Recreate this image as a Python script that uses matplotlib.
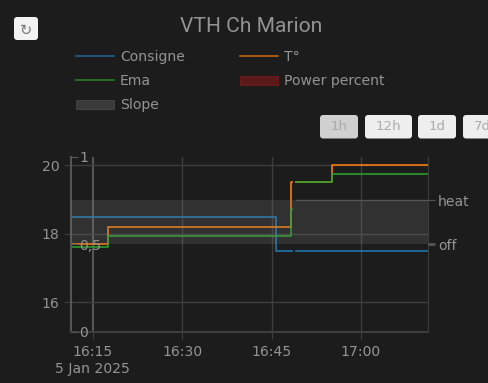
import matplotlib
matplotlib.use("Agg")
import matplotlib.pyplot as plt
import pandas as pd
from matplotlib.lines import Line2D
from matplotlib.patches import FancyBboxPatch, Patch

day = "2025-01-05 "
start = "16:11:20"
end = "17:11:15"

consigne_t = [start, "16:45:40", "16:48:24", "16:49:04", end]
consigne_v = [18.5, 17.5, float("nan"), 17.5, 17.5]

temp_t = [start, "16:17:30", "16:48:12", "16:48:24", "16:49:04", "16:55:06", end]
temp_v = [17.7, 18.21, 19.51, float("nan"), 19.51, 20.0, 20.0]

ema_t = [start, "16:17:30", "16:48:12", "16:48:24", "16:49:04", "16:55:06", end]
ema_v = [17.62, 17.92, 18.72, float("nan"), 19.51, 19.75, 19.75]

slope_t = [start, "16:48:24", "16:49:04", end]
slope_v = [1, float("nan"), 1, 1]
slope_base = 0

x_ticks = ["16:15", "16:30", "16:45", "17:00"]
left_ticks = [16, 18, 20]
power_ticks = [0, 0.5, 1]
power_labels = ["0", "0,5", "1"]
state_ticks = [0, 1]
state_labels = ["off", "heat"]
buttons = ["1h", "12h", "1d", "7d"]


def times(values):
    return pd.to_datetime([day + v for v in values])


BG = "#1c1c1c"
TXT = "#939393"
GRID = "#3d3d3d"
AXIS = "#555555"
W, H = 488, 383

plt.rcParams["font.family"] = ["DejaVu Sans"]
fig = plt.figure(figsize=(W / 100, H / 100), dpi=100, facecolor=BG)

l, r, t, b = 71, 428, 157, 331.7
ax = fig.add_axes([l / W, 1 - b / H, (r - l) / W, (b - t) / H], facecolor=BG)
ax.step(times(consigne_t), consigne_v, where="post", color="#1f77b4", lw=1.15)
ax.step(times(temp_t), temp_v, where="post", color="#ff7f0e", lw=1.15)
ax.step(times(ema_t), ema_v, where="post", color="#2ca02c", lw=1.15)
ax.set_xlim(times([start])[0], times([end])[0])
ax.set_ylim(15.14, 20.24)
ax.set_yticks(left_ticks)
ax.set_xticks(times(x_ticks))
labels = list(x_ticks)
labels[0] = "16:15\n5 Jan 2025"
ax.set_xticklabels(labels, linespacing=1.25)
ax.grid(True, color=GRID, lw=1)
ax.xaxis.get_gridlines()[0].set_color(AXIS)
ax.xaxis.get_gridlines()[0].set_linewidth(1.5)
ax.tick_params(axis="both", colors=TXT, labelsize=10.08, length=5, color=GRID, width=0.8)
ax.tick_params(axis="x", pad=4.5)
ax.spines["top"].set_visible(False)
ax.spines["right"].set_color(GRID)
ax.spines["bottom"].set_color(GRID)
ax.spines["bottom"].set_linewidth(1.5)
ax.spines["left"].set_color(AXIS)
ax.spines["left"].set_linewidth(1.5)

# power percent axis, labels sit inside the plot
ax2 = ax.twinx()
ax2.yaxis.tick_left()
ax2.set_ylim(0, 1)
ax2.set_yticks(power_ticks)
ax2.set_yticklabels(power_labels)
ax2.tick_params(axis="y", direction="in", colors=TXT, labelsize=10.08, length=5, pad=-6, color=AXIS)
for lab in ax2.get_yticklabels():
    lab.set_ha("left")
for s in ax2.spines.values():
    s.set_visible(False)

# slope band goes over the lines and dims them
ax3 = ax.twinx()
ax3.set_ylim(-1.99, 1.98)
band = times([start, end])
ax3.fill_between(band, slope_base, 1, color="#808080", alpha=0.22, lw=0)
ax3.plot(times(slope_t), slope_v, color="#555555", lw=1)
ax3.set_yticks(state_ticks)
ax3.set_yticklabels(state_labels)
ax3.tick_params(axis="y", colors=TXT, labelsize=10.08, length=5, color=AXIS, pad=2.2)
ax3.yaxis.get_major_ticks()[0].tick2line.set_markeredgewidth(2)
for s in ax3.spines.values():
    s.set_visible(False)

# title, buttons and legend are placed in pixels
ui = fig.add_axes([0, 0, 1, 1], facecolor="none")
ui.set_xlim(0, W)
ui.set_ylim(H, 0)
ui.axis("off")
ui.text(251, 27, "VTH Ch Marion", color=TXT, fontsize=15.1, family="Roboto", ha="center", va="center")


def button(x0, x1, y0, y1, color):
    ui.add_patch(FancyBboxPatch((x0 + 3, y0 + 3), x1 - x0 - 6, y1 - y0 - 6,
                                boxstyle="round,pad=3,rounding_size=3", fc=color, ec="none", clip_on=False))


button(14, 38, 17, 40, "#f2f2f2")
ui.text(26, 30.5, "\u21bb", color="#777777", fontsize=10.5, ha="center", va="center")

button_x = [(320, 358), (365, 412), (418, 456), (463, 501)]
for name, (x0, x1) in zip(buttons, button_x):
    button(x0, x1, 115, 138.5, "#d0d0d0" if name == "1h" else "#eeeeee")
    ui.text((x0 + x1) / 2, 126.5, name, color="#ababab", fontsize=9.6, ha="center", va="center")

handles = [
    Line2D([], [], color="#1f77b4", lw=1.1, alpha=0.8),
    Line2D([], [], color="#2ca02c", lw=1.1, alpha=0.8),
    Patch(fc="#3a3a3a", ec="#484848", lw=0.6),
    Line2D([], [], color="#ff7f0e", lw=1.1, alpha=0.8),
    Patch(fc="#5a1a1a", ec="#7a1c1c", lw=0.6),
]
names = ["Consigne", "Ema", "Slope", "T\u00b0", "Power percent"]
fig.legend(handles, names, ncol=2, frameon=False, fontsize=10.08, labelcolor=TXT,
           loc="upper left", bbox_to_anchor=(76 / W, 1 - 50 / H), borderaxespad=0, borderpad=0,
           handlelength=2.71, handleheight=0.6, handletextpad=0.43, columnspacing=3.95, labelspacing=0.72)

fig.savefig("out.png", dpi=100, facecolor=BG)
